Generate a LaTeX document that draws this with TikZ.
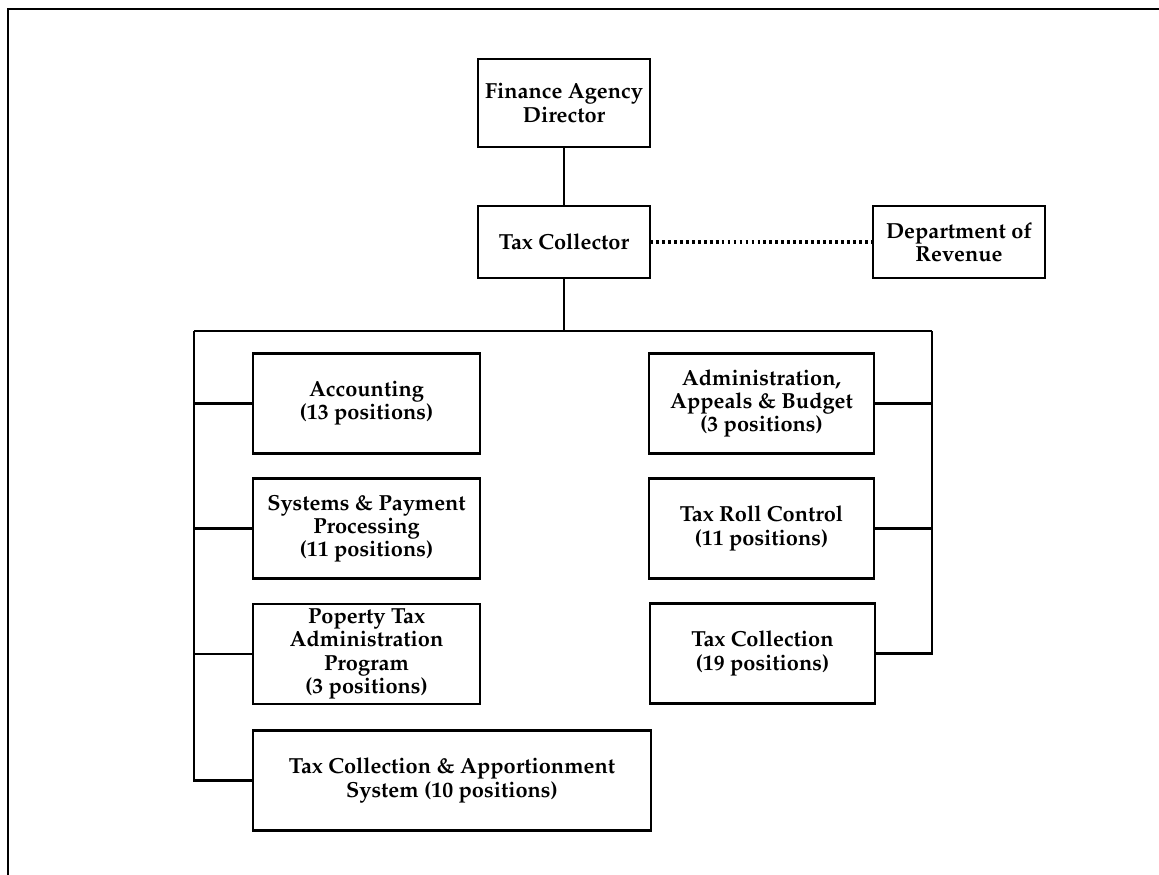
\documentclass[tikz,border=0pt]{standalone}
\usepackage[T1]{fontenc}
\usepackage{mathpazo}
\usepackage{tikz}

\begin{document}
\begin{tikzpicture}[x=0.02cm, y=-0.02cm, line width=1.4pt,
  every node/.style={draw, align=center, inner sep=2pt, outer sep=0pt, font=\fontsize{12.4}{13.2}\selectfont\bfseries},
  unit/.style={minimum width=4.54cm, minimum height=2cm},
  dotline/.style={line width=2pt, dash pattern=on 1.6pt off 1.8pt}]
\useasboundingbox (0,0) rectangle (1159,875);
\draw (8,875) -- (8,9) -- (1159,9);

\node[minimum width=3.44cm, minimum height=1.76cm] (fad) at (564,103) {Finance Agency\\Director};
\node[minimum width=3.44cm, minimum height=1.44cm] (tc) at (564,242) {Tax Collector};
\node[minimum width=3.44cm, minimum height=1.44cm] (dor) at (959,242) {Department of\\Revenue};

\node[unit] (acc) at (366.5,403.5) {Accounting\\(13 positions)};
\node[unit] (spp) at (366.5,528.5) {Systems \& Payment\\Processing\\(11 positions)};
\node[unit] (pta) at (366.5,654) {Poperty Tax\\Administration\\Program\\(3 positions)};
\node[minimum width=7.96cm, minimum height=2cm] (tcas) at (452,780.5) {Tax Collection \& Apportionment\\System (10 positions)};

\node[unit, minimum width=4.5cm] (aab) at (761.5,403.5) {Administration,\\Appeals \& Budget\\(3 positions)};
\node[unit, minimum width=4.5cm] (trc) at (761.5,528.5) {Tax Roll Control\\(11 positions)};
\node[unit, minimum width=4.5cm] (tcol) at (762.5,653.5) {Tax Collection\\(19 positions)};

\coordinate (lbus) at (194,331);
\coordinate (rbus) at (932,331);

\draw (fad) -- (tc);
\draw[dotline] (tc) -- (dor);
\draw (tc.south) -- (tc.south |- lbus);
\draw (lbus) -- (rbus);
\draw (lbus) |- (tcas.west);
\draw (rbus) |- (tcol.east);
\draw (acc.west) -- (acc.west -| lbus);
\draw (spp.west) -- (spp.west -| lbus);
\draw (pta.west) -- (pta.west -| lbus);
\draw (aab.east) -- (aab.east -| rbus);
\draw (trc.east) -- (trc.east -| rbus);
\end{tikzpicture}
\end{document}
